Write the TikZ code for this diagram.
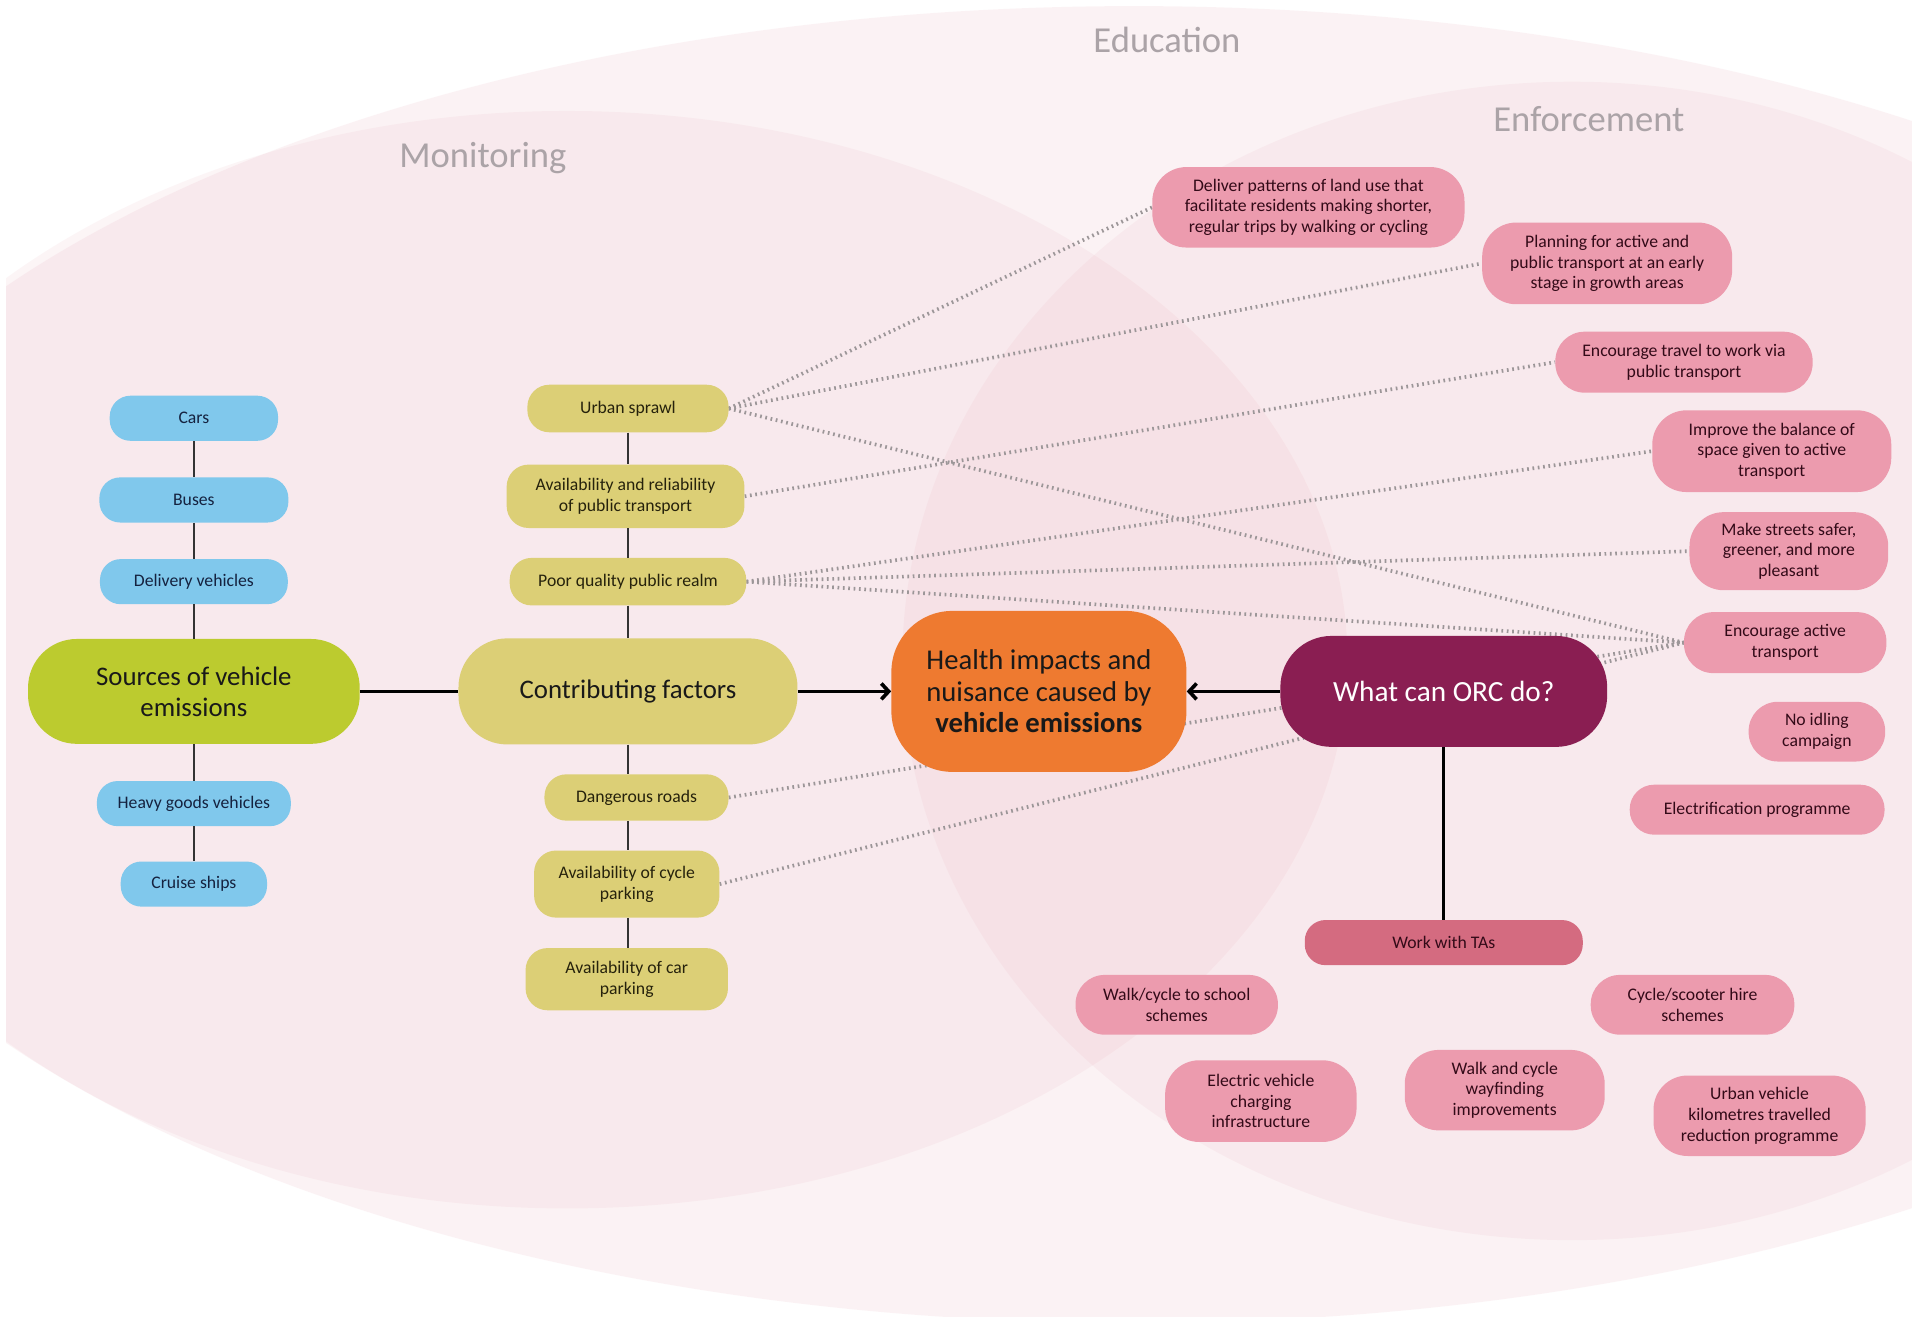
\documentclass[tikz,border=0pt]{standalone}
\usepackage{fontspec}
\setmainfont{Carlito}
\usetikzlibrary{arrows.meta}
\definecolor{bluef}{HTML}{80C8EC}
\definecolor{bluet}{HTML}{15223F}
\definecolor{greenf}{HTML}{BCCB2F}
\definecolor{olivef}{HTML}{DCCF76}
\definecolor{olivet}{HTML}{26220C}
\definecolor{orangef}{HTML}{EE7A30}
\definecolor{purplef}{HTML}{8A1E52}
\definecolor{pinkf}{HTML}{EC9BAE}
\definecolor{pinkd}{HTML}{D46B80}
\definecolor{pinkt}{HTML}{330A18}
\definecolor{shade}{HTML}{E7A1B0}
\definecolor{titlegray}{HTML}{ABA3A7}
\definecolor{dotgray}{HTML}{9C9698}
\pgfdeclarelayer{bg}
\pgfdeclarelayer{links}
\pgfsetlayers{bg,links,main}
\begin{document}
\begin{tikzpicture}[x=1pt,y=-1pt,
  src/.style={fill=bluef, text=bluet, rounded corners=17pt, minimum height=37pt, inner sep=0pt, align=center, font=\fontsize{14.5}{17}\selectfont},
  fac/.style={fill=olivef, text=olivet, rounded corners=18pt, inner sep=0pt, align=center, font=\fontsize{14.5}{17}\selectfont},
  act/.style={fill=pinkf, text=pinkt, rounded corners=20pt, inner sep=0pt, align=center, font=\fontsize{14.5}{17}\selectfont},
  hub/.style={rounded corners=38pt, inner sep=0pt, align=center, text=black!90, font=\fontsize{22}{25.5}\selectfont},
  tie/.style={draw=black!80, line width=1.5pt},
  bold/.style={draw=black, line width=3pt},
  arr/.style={draw=black, line width=3pt, -{Straight Barb[length=6pt,width=13pt]}},
  dots/.style={draw=dotgray, line width=3pt, dash pattern=on 1.4pt off 3pt},
  zone/.style={fill=shade, fill opacity=#1},
  zonelabel/.style={text=titlegray, font=\fontsize{30}{32}\selectfont}
]
\useasboundingbox (0,0) rectangle (1568,1080);

% background zones
\begin{pgfonlayer}{bg}
\fill[white] (0,0) rectangle (1568,1080);
\begin{scope}
  \clip (5,0) rectangle (1568,1080);
  \fill[zone=0.13] (930,545) ellipse [x radius=1130, y radius=540];
  \fill[zone=0.10] (465,541) ellipse [x radius=640, y radius=450];
  \fill[zone=0.10] (1289,542) ellipse [x radius=549, y radius=475];
\end{scope}
\end{pgfonlayer}

\node[zonelabel] (lEdu) at (957,33) {Education};
\node[zonelabel] (lMon) at (396,130) {Monitoring};
\node[zonelabel] (lEnf) at (1303,98) {Enforcement};

% sources
\node[src, minimum width=138pt] (cars) at (159,343) {Cars};
\node[src, minimum width=155pt] (buses) at (159,410) {Buses};
\node[src, minimum width=154pt] (deliv) at (159,477) {Delivery vehicles};
\node[hub, fill=greenf, minimum width=272pt, minimum height=86pt, rounded corners=40pt] (sources) at (159,567) {Sources of vehicle\\emissions};
\node[src, minimum width=159pt] (hgv) at (159,659) {Heavy goods vehicles};
\node[src, minimum width=120pt] (cruise) at (159,725) {Cruise ships};

% contributing factors
\node[fac, minimum width=165pt, minimum height=39pt] (sprawl) at (515,335) {Urban sprawl};
\node[fac, minimum width=195pt, minimum height=52pt] (ptrans) at (513,407) {Availability and reliability\\of public transport};
\node[fac, minimum width=194pt, minimum height=39pt] (realm) at (515,477) {Poor quality public realm};
\node[hub, fill=olivef, minimum width=278pt, minimum height=87pt, rounded corners=40pt] (factors) at (515,567) {Contributing factors};
\node[fac, minimum width=151pt, minimum height=38pt] (roads) at (522,654) {Dangerous roads};
\node[fac, minimum width=152pt, minimum height=55pt] (cycpark) at (514,725) {Availability of cycle\\parking};
\node[fac, minimum width=166pt, minimum height=51pt] (carpark) at (514,803) {Availability of car\\parking};

% centre
\node[hub, fill=orangef, minimum width=242pt, minimum height=132pt, rounded corners=50pt, font=\fontsize{23.5}{26}\selectfont] (health) at (852,567) {Health impacts and\\nuisance caused by\\\textbf{vehicle emissions}};
\node[hub, fill=purplef, text=white, minimum width=268pt, minimum height=91pt, rounded corners=42pt, font=\fontsize{24}{27}\selectfont] (orc) at (1184,567) {What can ORC do?};

% actions
\node[act, minimum width=256pt, minimum height=66pt, rounded corners=28pt] (deliver) at (1073,170) {Deliver patterns of land use that\\facilitate residents making shorter,\\regular trips by walking or cycling};
\node[act, minimum width=205pt, minimum height=67pt, rounded corners=28pt] (planning) at (1318,216) {Planning for active and\\public transport at an early\\stage in growth areas};
\node[act, minimum width=211pt, minimum height=50pt, rounded corners=24pt] (travel) at (1381,297) {Encourage travel to work via\\public transport};
\node[act, minimum width=196pt, minimum height=67pt, rounded corners=28pt] (balance) at (1453,370) {Improve the balance of\\space given to active\\transport};
\node[act, minimum width=163pt, minimum height=64pt, rounded corners=28pt] (streets) at (1467,452) {Make streets safer,\\greener, and more\\pleasant};
\node[act, minimum width=166pt, minimum height=50pt, rounded corners=24pt] (active) at (1464,527) {Encourage active\\transport};
\node[act, minimum width=112pt, minimum height=49pt, rounded corners=24pt] (idling) at (1490,600) {No idling\\campaign};
\node[act, minimum width=209pt, minimum height=41pt] (electr) at (1441,664) {Electrification programme};
\node[act, fill=pinkd, minimum width=228pt, minimum height=37pt, rounded corners=17pt] (tas) at (1184,773) {Work with TAs};
\node[act, minimum width=166pt, minimum height=49pt, rounded corners=24pt] (school) at (965,824) {Walk/cycle to school\\schemes};
\node[act, minimum width=167pt, minimum height=49pt, rounded corners=24pt] (hire) at (1388,824) {Cycle/scooter hire\\schemes};
\node[act, minimum width=157pt, minimum height=67pt, rounded corners=28pt] (evc) at (1034,903) {Electric vehicle\\charging\\infrastructure};
\node[act, minimum width=164pt, minimum height=66pt, rounded corners=28pt] (wayf) at (1234,894) {Walk and cycle\\wayfinding\\improvements};
\node[act, minimum width=174pt, minimum height=66pt, rounded corners=28pt] (vkt) at (1443,915) {Urban vehicle\\kilometres travelled\\reduction programme};

% dotted links (behind nodes)
\begin{pgfonlayer}{links}
  \draw[dots] (sprawl.east) -- (deliver.west);
  \draw[dots] (sprawl.east) -- (planning.west);
  \draw[dots] (sprawl.east) -- (active.west);
  \draw[dots] (ptrans.east) -- (travel.west);
  \draw[dots] (realm.east) -- (balance.west);
  \draw[dots] (realm.east) -- (streets.west);
  \draw[dots] (realm.east) -- (active.west);
  \draw[dots] (roads.east) -- (active.west);
  \draw[dots] (cycpark.east) -- (active.west);
\end{pgfonlayer}

% solid links
\draw[tie] (cars) -- (buses);
\draw[tie] (buses) -- (deliv);
\draw[tie] (deliv) -- (sources);
\draw[tie] (sources) -- (hgv);
\draw[tie] (hgv) -- (cruise);
\draw[tie] (sprawl) -- (sprawl |- ptrans.north);
\draw[tie] (sprawl |- ptrans.south) -- (sprawl |- realm.north);
\draw[tie] (realm) -- (factors);
\draw[tie] (factors.south) -- (factors.south |- roads.north);
\draw[tie] (factors.south |- roads.south) -- (factors.south |- cycpark.north);
\draw[tie] (factors.south |- cycpark.south) -- (factors.south |- carpark.north);
\draw[bold] (sources) -- (factors);
\draw[arr] (factors) -- (health);
\draw[arr] (orc) -- (health);
\draw[draw=black, line width=2.5pt] (orc) -- (tas);
\end{tikzpicture}
\end{document}
